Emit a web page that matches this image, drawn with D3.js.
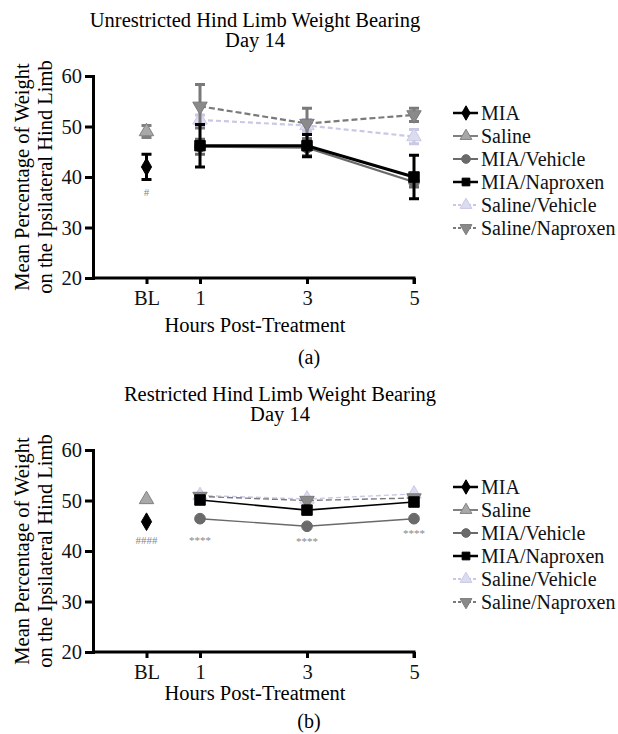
<!DOCTYPE html>
<html>
<head>
<meta charset="utf-8">
<script src="https://cdn.jsdelivr.net/npm/d3@7"></script>
<style>
  body { margin: 0; background: #fff; }
  svg text { font-family: "Liberation Serif", "Times New Roman", serif; }
</style>
</head>
<body>
<div id="chart"></div>
<script>
// hour values, BL = 0
var hourTicks = [0, 1, 3, 5];
var tickLabels = ["BL", "1", "3", "5"];
var yTicks = [20, 30, 40, 50, 60];
var seriesNames = ["MIA", "Saline", "MIA/Vehicle", "MIA/Naproxen", "Saline/Vehicle", "Saline/Naproxen"];

// unrestricted (a): [hour, mean, sem]
var unMIA = [[0, 42.0, 2.5]];
var unSaline = [[0, 49.0, 1.2]];
var unMIAVehicle = [[1, 46.0, 1.5], [3, 45.8, 1.6], [5, 39.0, 1.0]];
var unMIANaproxen = [[1, 46.2, 4.2], [3, 46.2, 2.2], [5, 40.0, 4.3]];
var unSalineVehicle = [[1, 51.3, 1.0], [3, 50.2, 1.2], [5, 48.0, 1.4]];
var unSalineNaproxen = [[1, 54.0, 4.3], [3, 50.6, 3.0], [5, 52.3, 1.3]];
var unAnno = [[0, 36.3, "#"]];

// restricted (b)
var reMIA = [[0, 45.8, 0.4]];
var reSaline = [[0, 50.2, 0.4]];
var reMIAVehicle = [[1, 46.4, 0.3], [3, 44.9, 0.3], [5, 46.4, 0.3]];
var reMIANaproxen = [[1, 50.1, 0.4], [3, 48.1, 0.4], [5, 49.7, 0.5]];
var reSalineVehicle = [[1, 51.0, 0.3], [3, 50.3, 0.3], [5, 51.3, 0.3]];
var reSalineNaproxen = [[1, 50.8, 0.3], [3, 50.0, 0.3], [5, 50.5, 0.3]];
var reAnno = [[0, 41.3, "####"], [1, 41.3, "****"], [3, 41.1, "****"], [5, 42.8, "****"]];

var styles = [
  {color: "#000", fill: "#000", shape: d3.symbolDiamond, dash: null},
  {color: "#808080", fill: "#a8a8a8", shape: d3.symbolTriangle, dash: null},
  {color: "#6a6a6a", fill: "#6a6a6a", shape: d3.symbolCircle, dash: null},
  {color: "#000", fill: "#000", shape: d3.symbolSquare, dash: null},
  {color: "#c9c9e6", fill: "#dcdcf0", shape: d3.symbolTriangle, dash: "5,3"},
  {color: "#7a7a7a", fill: "#8a8a8a", shape: d3.symbolTriangle, dash: "6,3", flip: true}
];

var width = 618, height = 734;
var svg = d3.select("#chart").append("svg")
  .attr("width", width).attr("height", height);

function drawPanel(top, title, titleX, series, anno, panelTag, thick) {
  var x = d3.scaleLinear().domain([-1, 5]).range([93, 414]);
  var y = d3.scaleLinear().domain([20, 60]).range([top + 202, top]);
  var g = svg.append("g");

  g.append("text").attr("x", titleX).attr("y", top - 49).attr("text-anchor", "middle")
    .attr("font-size", 20.5).text(title);
  g.append("text").attr("x", titleX).attr("y", top - 29).attr("text-anchor", "middle")
    .attr("font-size", 20.5).text("Day 14");

  var yAxis = g.append("g").attr("transform", "translate(93,0)")
    .call(d3.axisLeft(y).tickValues(yTicks).tickSize(8).tickPadding(3));
  var xAxis = g.append("g").attr("transform", "translate(0," + y(20) + ")")
    .call(d3.axisBottom(x).tickValues(hourTicks).tickFormat(function(d, i) { return tickLabels[i]; })
      .tickSize(6).tickPadding(6).tickSizeOuter(6));
  [yAxis, xAxis].forEach(function(a) {
    a.select(".domain").attr("stroke-width", 3).attr("stroke", "#000");
    a.selectAll(".tick line").attr("stroke-width", 3);
    a.selectAll("text").attr("font-size", 20.5).attr("fill", "#111");
  });
  // 5 tick is at the end of the axis
  xAxis.select(".domain").attr("d", "M93,0H414V6");

  var ylab = g.append("text").attr("transform", "translate(22," + (top + 101) + ") rotate(-90)")
    .attr("text-anchor", "middle").attr("font-size", 20.5);
  ylab.append("tspan").attr("x", 0).attr("dy", "0.35em").text("Mean Percentage of Weight");
  ylab.append("tspan").attr("x", 0).attr("dy", "1.12em").text("on the Ipsilateral Hind Limb");

  g.append("text").attr("x", 255).attr("y", y(20) + (thick ? 54 : 48)).attr("text-anchor", "middle")
    .attr("font-size", 20.5).text("Hours Post-Treatment");
  g.append("text").attr("x", 309).attr("y", y(20) + (thick ? 86 : 76)).attr("text-anchor", "middle")
    .attr("font-size", 20).text(panelTag);

  var line = d3.line().x(function(d) { return x(d[0]); }).y(function(d) { return y(d[1]); });

  // draw light series first, dark on top
  var order = [4, 5, 1, 2, 0, 3];
  order.forEach(function(si) {
    var s = series[si], st = styles[si];
    var sg = g.append("g");
    var lw = (si == 3 || si == 0) ? (thick ? 3 : 1.6) : (thick ? 2.2 : 1.4);
    if (s.length > 1) {
      sg.append("path").datum(s).attr("d", line).attr("fill", "none")
        .attr("stroke", st.color).attr("stroke-width", lw)
        .attr("stroke-dasharray", st.dash);
    }
    s.forEach(function(d) {
      if (d[2] > 0.6) {
        var cx = x(d[0]);
        sg.append("path")
          .attr("d", "M" + (cx - 5) + "," + y(d[1] + d[2]) + "H" + (cx + 5) +
            "M" + cx + "," + y(d[1] + d[2]) + "V" + y(d[1] - d[2]) +
            "M" + (cx - 5) + "," + y(d[1] - d[2]) + "H" + (cx + 5))
          .attr("stroke", st.color).attr("stroke-width", 3).attr("fill", "none");
      }
    });
    sg.selectAll(".pt").data(s).enter().append("path")
      .attr("d", d3.symbol().type(st.shape).size(si == 3 ? 110 : 90))
      .attr("transform", function(d) {
        return "translate(" + x(d[0]) + "," + y(d[1]) + ")" + (st.flip ? " rotate(180)" : "");
      })
      .attr("fill", st.fill).attr("stroke", st.color).attr("stroke-width", 1);
  });

  g.selectAll(".anno").data(anno).enter().append("text")
    .attr("x", function(d) { return x(d[0]); })
    .attr("y", function(d) { return y(d[1]); })
    .attr("text-anchor", "middle").attr("font-size", 11).attr("fill", "#888")
    .text(function(d) { return d[2]; });

  // legend
  var leg = g.append("g");
  seriesNames.forEach(function(name, i) {
    var st = styles[i];
    var ly = top + 37 + i * 23;
    leg.append("line").attr("x1", 453).attr("x2", 478).attr("y1", ly).attr("y2", ly)
      .attr("stroke", st.color).attr("stroke-width", (i == 0 || i == 3) ? 2.5 : 2)
      .attr("stroke-dasharray", st.dash ? "3,2" : null);
    leg.append("path").attr("d", d3.symbol().type(st.shape).size(60))
      .attr("transform", "translate(466," + ly + ")" + (st.flip ? " rotate(180)" : ""))
      .attr("fill", st.fill).attr("stroke", st.color);
    leg.append("text").attr("x", 481).attr("y", ly).attr("dy", "0.35em")
      .attr("font-size", 20).attr("fill", "#111").text(name);
  });
}

drawPanel(76, "Unrestricted Hind Limb Weight Bearing", 255,
  [unMIA, unSaline, unMIAVehicle, unMIANaproxen, unSalineVehicle, unSalineNaproxen], unAnno, "(a)", true);
drawPanel(450, "Restricted Hind Limb Weight Bearing", 280,
  [reMIA, reSaline, reMIAVehicle, reMIANaproxen, reSalineVehicle, reSalineNaproxen], reAnno, "(b)", false);
</script>
</body>
</html>
